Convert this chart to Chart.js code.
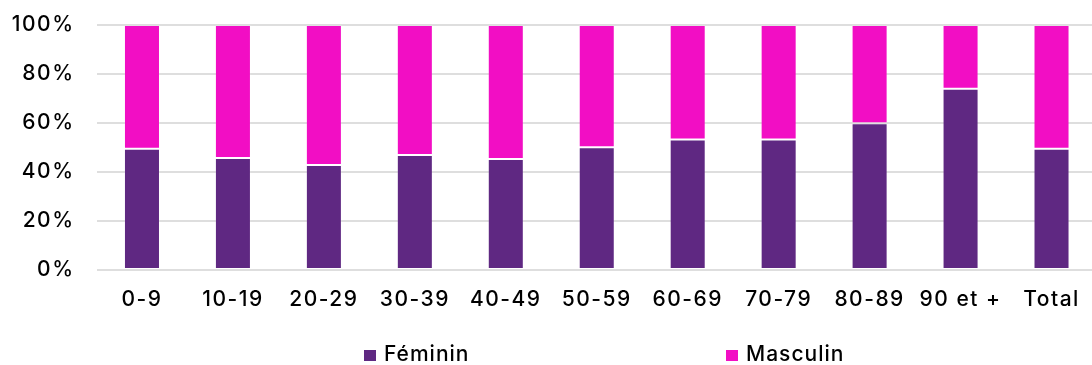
<!DOCTYPE html>
<html>
<head>
<meta charset="utf-8">
<script src="https://cdn.jsdelivr.net/npm/chart.js@4"></script>
<style>
  html, body { margin: 0; padding: 0; background: #fff; overflow: hidden; }
  #wrap { position: relative; width: 1097px; height: 365px; }
  #c { display: block; }
  .lg { position: absolute; top: 342px; font-family: Inter, sans-serif; font-weight: 500; font-size: 21px; letter-spacing: 1px; color: #000; line-height: 24px; white-space: nowrap; }
  .lg i { position: absolute; left: 0; top: 8px; width: 12px; height: 11px; }
  .lg span { position: absolute; left: 20px; top: 0; }
</style>
</head>
<body>
<div id="wrap">
  <canvas id="c" width="1097" height="365"></canvas>
  <div class="lg" id="lg1" style="left:364px"><i></i><span></span></div>
  <div class="lg" id="lg2" style="left:726px"><i></i><span></span></div>
</div>
<script>
const categories = ['0-9', '10-19', '20-29', '30-39', '40-49', '50-59', '60-69', '70-79', '80-89', '90 et +', 'Total'];
const seriesNames = ['Féminin', 'Masculin'];
const feminin  = [49.5, 45.7, 42.9, 46.9, 45.3, 50.1, 53.3, 53.3, 59.9, 74.0, 49.5];
const masculin = [50.5, 54.3, 57.1, 53.1, 54.7, 49.9, 46.7, 46.7, 40.1, 26.0, 50.5];
const yTicks = [0, 20, 40, 60, 80, 100];
const colors = ['#5F2882', '#F20EC4'];

const spacing = {
  id: 'spacing',
  beforeDraw(chart) { chart.ctx.letterSpacing = '1.5px'; }
};

const font = { family: 'Inter, sans-serif', size: 21, weight: 500 };

new Chart(document.getElementById('c'), {
  type: 'bar',
  data: {
    labels: categories,
    datasets: [
      { label: seriesNames[0], data: feminin, backgroundColor: colors[0], borderColor: 'rgba(255,255,255,0.12)', borderWidth: 1, borderSkipped: false },
      { label: seriesNames[1], data: masculin, backgroundColor: colors[1], borderColor: 'rgba(255,255,255,0.12)', borderWidth: 1, borderSkipped: false }
    ]
  },
  options: {
    responsive: false,
    animation: false,
    devicePixelRatio: 1,
    layout: { padding: { left: 0, right: 0, top: 25, bottom: 0 } },
    datasets: { bar: { barPercentage: 0.396, categoryPercentage: 1 } },
    plugins: { legend: { display: false }, tooltip: { enabled: false } },
    scales: {
      x: {
        stacked: true,
        grid: { display: false, drawTicks: false },
        border: { display: false },
        ticks: { color: '#000', font: font, padding: 17, maxRotation: 0, autoSkip: false },
        afterFit(s) { s.height = 95; s.paddingLeft = 0; s.paddingRight = 0; }
      },
      y: {
        stacked: true,
        min: 0, max: 100,
        afterBuildTicks(s) { s.ticks = yTicks.map(v => ({ value: v })); },
        grid: { color: '#dedede', lineWidth: 2, drawTicks: false },
        border: { display: false },
        ticks: { color: '#000', font: font, padding: 22, callback: v => v + '%' },
        afterFit(s) { s.width = 96.5; s.paddingTop = 0; s.paddingBottom = 0; }
      }
    }
  },
  plugins: [spacing]
});

const lgs = [document.getElementById('lg1'), document.getElementById('lg2')];
lgs.forEach((el, i) => {
  el.querySelector('i').style.background = colors[i];
  el.querySelector('span').textContent = seriesNames[i];
});
</script>
</body>
</html>
